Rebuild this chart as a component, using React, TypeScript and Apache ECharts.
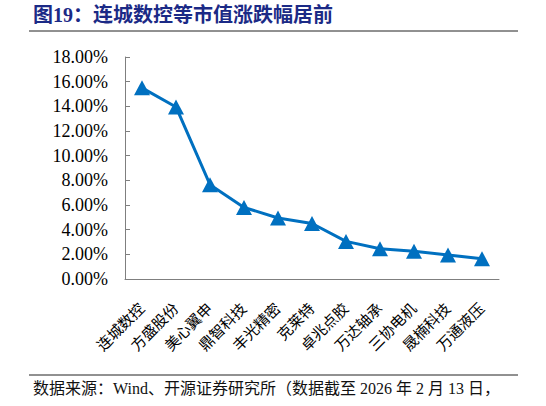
import React, { useEffect, useRef } from 'react';
import * as echarts from 'echarts';

const titleText = '图19：连城数控等市值涨跌幅居前';
const sourceText = '数据来源：Wind、开源证券研究所（数据截至 2026 年 2 月 13 日，';

const stocks = [
  '连城数控', '方盛股份', '美心翼申', '鼎智科技', '丰光精密', '克莱特',
  '卓兆点胶', '万达轴承', '三协电机', '晟楠科技', '万通液压',
];
// 市值涨跌幅（%）
const changePct = [15.5, 13.95, 7.65, 5.8, 4.95, 4.5, 3.05, 2.45, 2.25, 1.95, 1.65];

const yMin = 0;
const yMax = 18;
const yStep = 2;

const serif = "'Liberation Serif', 'Times New Roman', 'Noto Sans CJK SC', serif";

export default function App() {
  const chartRef = useRef<HTMLDivElement>(null);

  useEffect(() => {
    document.body.style.margin = '0';
    if (!chartRef.current) return;
    const chart = echarts.init(chartRef.current, undefined, { renderer: 'svg' });

    const option: echarts.EChartsOption = {
      animation: false,
      backgroundColor: '#fff',
      grid: { left: 125, right: 47, top: 57, bottom: 127 },
      graphic: [
        {
          type: 'text',
          left: 33,
          top: 5,
          style: {
            text: titleText,
            fontSize: 20,
            fontWeight: 'bold',
            fontFamily: serif,
            fill: '#1b2a86',
          },
        },
        {
          type: 'line',
          shape: { x1: 29, y1: 31, x2: 518, y2: 31 },
          style: { stroke: '#222', lineWidth: 1 },
        },
        {
          type: 'line',
          shape: { x1: 29, y1: 375, x2: 518, y2: 375 },
          style: { stroke: '#222', lineWidth: 1 },
        },
        {
          type: 'text',
          left: 33,
          top: 380,
          style: {
            text: sourceText,
            fontSize: 16,
            fontFamily: serif,
            fill: '#111',
          },
        },
      ],
      xAxis: {
        type: 'category',
        data: stocks,
        boundaryGap: true,
        axisLine: { lineStyle: { color: '#7f7f7f', width: 1 } },
        axisTick: { inside: true, length: 5, lineStyle: { color: '#7f7f7f' } },
        axisLabel: {
          interval: 0,
          rotate: 45,
          margin: 27,
          fontSize: 15,
          color: '#000',
          fontFamily: serif,
        },
        splitLine: { show: false },
      },
      yAxis: {
        type: 'value',
        min: yMin,
        max: yMax,
        interval: yStep,
        axisLine: { show: true, lineStyle: { color: '#7f7f7f', width: 1 } },
        axisTick: { show: true, inside: true, length: 5, lineStyle: { color: '#7f7f7f' } },
        axisLabel: {
          margin: 17,
          fontSize: 18,
          color: '#000',
          fontFamily: serif,
          formatter: (v: number) => v.toFixed(2) + '%',
        },
        splitLine: { show: false },
      },
      series: [
        {
          type: 'line',
          data: changePct,
          lineStyle: { color: '#0070c0', width: 3 },
          itemStyle: { color: '#0070c0' },
          symbol: 'triangle',
          symbolSize: [16, 15],
        },
      ],
    };

    chart.setOption(option);
    return () => {
      chart.dispose();
    };
  }, []);

  return <div ref={chartRef} style={{ width: 546, height: 406 }} />;
}
